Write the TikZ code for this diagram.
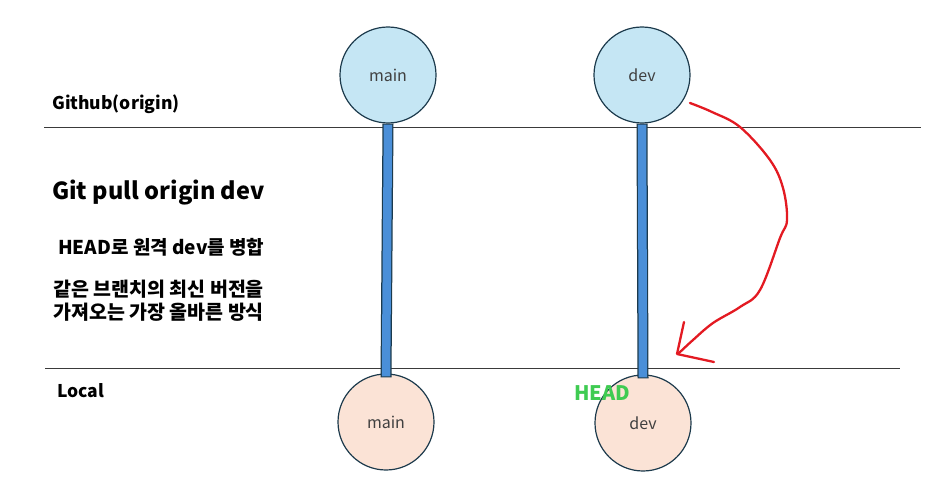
\documentclass[tikz,border=0pt]{standalone}
\usepackage{fontspec}
\newfontfamily\krfont{Noto Sans CJK KR}
\definecolor{remoto}{HTML}{C5E6F4}
\definecolor{localc}{HTML}{FBE3D6}
\definecolor{borde}{HTML}{1C3A4C}
\definecolor{barra}{HTML}{4A8FD8}
\definecolor{verde}{HTML}{3FCB52}
\definecolor{rojo}{HTML}{E31A22}
\definecolor{linea}{HTML}{3A3A3A}
\tikzset{
  rama/.style={circle, draw=borde, line width=1.2pt, minimum size=96pt, inner sep=0pt,
    font=\krfont\fontsize{16}{18}\selectfont, text=black!75},
  rotulo/.style={anchor=west, inner sep=0pt, font=\krfont\bfseries\fontsize{17.5}{20}\selectfont},
  texto/.style={anchor=west, inner sep=0pt, align=left, font=\krfont\bfseries\fontsize{19.5}{23}\selectfont}
}
\begin{document}
\begin{tikzpicture}[x=1pt, y=-1pt]
\useasboundingbox (0,0) rectangle (927,487);

% Lineas de separacion
\draw[linea, line width=1pt] (44,127) -- (921,127);
\draw[linea, line width=1pt] (45,368) -- (900,368);

% Ramas
\node[rama, fill=remoto] (om) at (388,75) {main};
\node[rama, fill=remoto] (od) at (642,75) {dev};
\node[rama, fill=localc] (lm) at (386,422) {main};
\node[rama, fill=localc] (ld) at (643,423) {dev};

\foreach \a/\b in {om/lm, od/ld}
  {
  \draw[borde, line width=11pt] (\a.south) -- ([yshift=-4pt]\b.north);
  \draw[barra, line width=8.5pt, shorten >=1pt, shorten <=1pt] (\a.south) -- ([yshift=-4pt]\b.north);
  }

% Textos
\node[rotulo] (gh) at (52,104) {Github(origin)};
\node[rotulo] (lo) at (57,391) {Local};
\node[rotulo, font=\krfont\bfseries\fontsize{23.5}{26}\selectfont] (cmd) at (52,193) {Git pull origin dev};
\node[rotulo, font=\krfont\bfseries\fontsize{19}{20}\selectfont] (t1) at (58,247) {HEAD로 원격 dev를 병합};
\node[texto] (t2) at (53,301) {같은 브랜치의 최신 버전을\\가져오는 가장 올바른 방식};
\node[rotulo, text=verde, font=\krfont\bfseries\fontsize{20}{22}\selectfont] (hd) at (574,393) {HEAD};

% Flecha roja
\coordinate (ini) at (690,103);
\coordinate (fin) at (679,353);
\draw[rojo, line width=2.3pt, line cap=round, line join=round]
  plot[smooth, tension=0.6] coordinates {(ini) (712,112) (740,127) (770,160) (783,188)
    (787,220) (780,238) (760,290) (740,307) (713,323) (693,340) (fin)};
\draw[rojo, line width=2.3pt, line cap=round, line join=round]
  (684,322) -- (677,354) -- (714,362);
\end{tikzpicture}
\end{document}
